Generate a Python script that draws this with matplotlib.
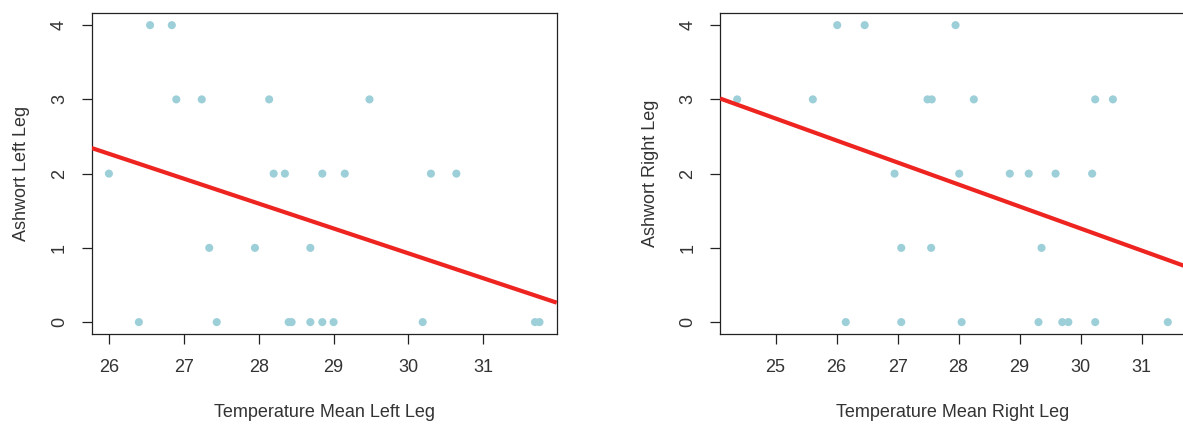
import numpy as np
import matplotlib
matplotlib.use("Agg")
import matplotlib.pyplot as plt

# values
left_temp = [26.55, 26.84,
             26.90, 27.24, 28.14, 29.48,
             26.00, 28.20, 28.35, 28.85, 29.15, 30.30, 30.64,
             27.34, 27.95, 28.69,
             26.40, 27.44, 28.40, 28.44, 28.69, 28.85, 29.00, 30.19, 31.69, 31.75]
left_ashworth = [4, 4,
                 3, 3, 3, 3,
                 2, 2, 2, 2, 2, 2, 2,
                 1, 1, 1,
                 0, 0, 0, 0, 0, 0, 0, 0, 0, 0]

right_temp = [26.01, 26.46, 27.95,
              24.37, 25.61, 27.49, 27.56, 28.25, 30.24, 30.53,
              26.95, 28.01, 28.84, 29.15, 29.59, 30.19,
              27.06, 27.55, 29.36,
              26.15, 27.06, 28.05, 29.31, 29.70, 29.80, 30.24, 31.43]
right_ashworth = [4, 4, 4,
                  3, 3, 3, 3, 3, 3, 3,
                  2, 2, 2, 2, 2, 2,
                  1, 1, 1,
                  0, 0, 0, 0, 0, 0, 0, 0]

x_labels = ["Temperature Mean Left Leg", "Temperature Mean Right Leg"]
y_labels = ["Ashwort Left Leg", "Ashwort Right Leg"]

plt.rcParams['font.family'] = ['Liberation Sans', 'DejaVu Sans']
txt = '#333333'
pt_col = '#9DCFD9'
line_col = '#EE2420'

fig = plt.figure(figsize=(11.83, 4.24), dpi=100)
ax1 = fig.add_axes([0.0775, 0.2123, 0.3931, 0.7564])
ax2 = fig.add_axes([0.6086, 0.2123, 0.3931, 0.7564])

def r_range(v):  # R style 4% padding
    lo, hi = min(v), max(v)
    d = (hi - lo) * 0.04
    return lo - d, hi + d

for ax, xs, ys, xl, yl in [(ax1, left_temp, left_ashworth, x_labels[0], y_labels[0]),
                           (ax2, right_temp, right_ashworth, x_labels[1], y_labels[1])]:
    ax.scatter(xs, ys, s=34, color=pt_col, edgecolors='none', zorder=2)
    ax.set_xlim(r_range(xs))
    ax.set_ylim(r_range(ys))
    b, a = np.polyfit(xs, ys, 1)  # regression line
    gx = np.array(ax.get_xlim())
    ax.plot(gx, a + b * gx, color=line_col, lw=3, solid_capstyle='butt', zorder=3)
    ax.set_xticks(range(int(np.ceil(min(xs))), int(np.floor(max(xs))) + 1))
    ax.set_yticks([0, 1, 2, 3, 4])
    ax.tick_params(length=7, width=0.9, color='#222222', labelsize=13, labelcolor=txt)
    ax.tick_params(axis='x', pad=11)
    ax.tick_params(axis='y', pad=10)
    for t in ax.get_yticklabels():
        t.set_rotation(90)
        t.set_va('center')
    for s in ax.spines.values():
        s.set_linewidth(0.9)
        s.set_color('#222222')
    ax.set_xlabel(xl, fontsize=13, color=txt, labelpad=20)
    ax.set_ylabel(yl, fontsize=13, color=txt, labelpad=15)

fig.savefig("out.png", dpi=100)
